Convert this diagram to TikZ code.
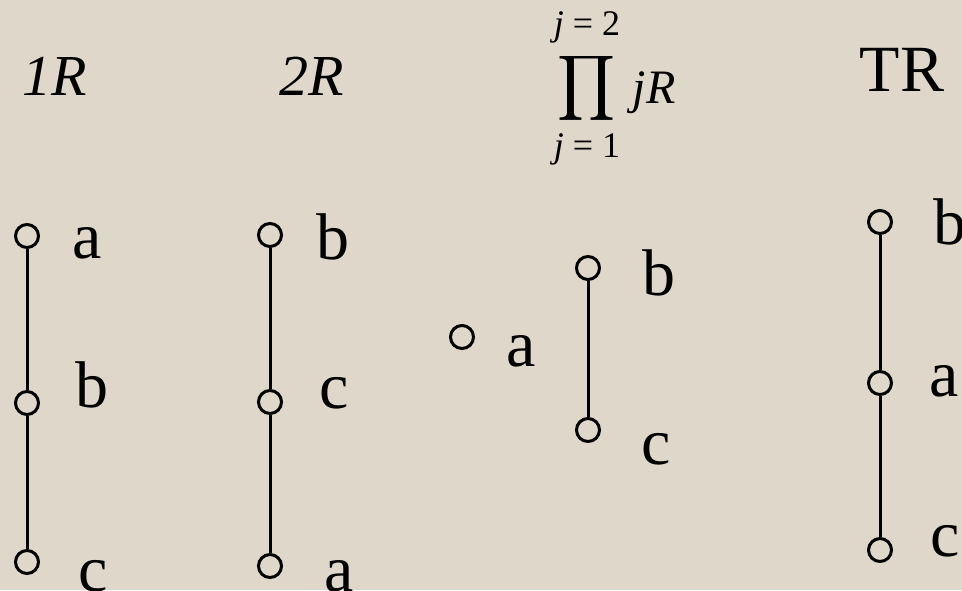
\documentclass[tikz,border=0pt]{standalone}
\usepackage{fontspec}
\setmainfont{Liberation Serif}
\usepackage{graphicx}
\definecolor{paper}{RGB}{223,215,201}

\begin{document}
\begin{tikzpicture}[x=0.5pt,y=-0.5pt,
		vertex/.style={circle,draw,line width=1.5pt,minimum size=11.5pt,
			inner sep=0pt},
		lbl/.style={inner sep=0pt,font=\fontsize{33}{33}\selectfont},
		title/.style={inner sep=0pt,font=\fontsize{29}{29}\selectfont\itshape},
		limit/.style={inner sep=0pt,font=\fontsize{18}{18}\selectfont},
		edge/.style={line width=1.5pt},
		]
		\fill[paper] (0,0) rectangle (962,590);
		\useasboundingbox (0,0) rectangle (962,590);
		
		% 1R
		\node[title] (t1) at (55,76) {1R};
		\node[vertex] (a1) at (27,236) {};
		\node[vertex] (b1) at (27,403) {};
		\node[vertex] (c1) at (27,562) {};
		\node[lbl] at (87,243) {a};
		\node[lbl] at (92,385) {b};
		\node[lbl] at (93,576) {c};
		\draw[edge] (a1) -- (b1);
		\draw[edge] (b1) -- (c1);
		
		% 2R
		\node[title] (t2) at (312,76) {2R};
		\node[vertex] (b2) at (270,235) {};
		\node[vertex] (c2) at (270,402) {};
		\node[vertex] (a2) at (270,566) {};
		\node[lbl] at (333,237) {b};
		\node[lbl] at (334,393) {c};
		\node[lbl] at (339,576) {a};
		\draw[edge] (b2) -- (c2);
		\draw[edge] (c2) -- (a2);
		
		% product of 1R and 2R
		\node[limit] (top) at (587,27) {\textit{j} = 2};
		\node[inner sep=0pt] (prod) at (586,88.5)
		{\resizebox*{29pt}{36.5pt}{$\displaystyle\prod$}};
		\node[limit] (bot) at (587,149) {\textit{j} = 1};
		\node[inner sep=0pt,font=\fontsize{24}{24}\selectfont\itshape]
		(jr) at (654,93) {jR};
		\node[vertex] (a3) at (462,337) {};
		\node[vertex] (b3) at (588,268) {};
		\node[vertex] (c3) at (588,430) {};
		\node[lbl] at (521,351) {a};
		\node[lbl] at (659,273) {b};
		\node[lbl] at (656,449) {c};
		\draw[edge] (b3) -- (c3);
		
		% TR
		\node[inner sep=0pt,font=\fontsize{33}{33}\selectfont] (t4) at (902,70) {TR};
		\node[vertex] (b4) at (880,222) {};
		\node[vertex] (a4) at (880,383) {};
		\node[vertex] (c4) at (880,550) {};
		\node[lbl] at (950,222) {b};
		\node[lbl] at (944,381) {a};
		\node[lbl] at (945,541) {c};
		\draw[edge] (b4) -- (a4);
		\draw[edge] (a4) -- (c4);
	\end{tikzpicture}
\end{document}
